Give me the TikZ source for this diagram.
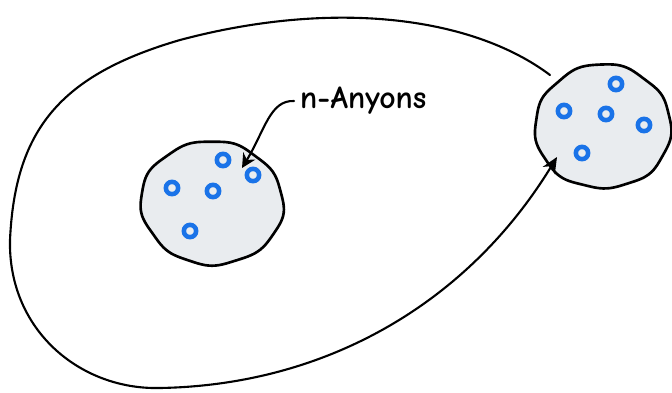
\documentclass[tikz,border=0pt]{standalone}
\usepackage{fontspec}
\newfontfamily\handfont{Comic Neue}
\usetikzlibrary{arrows.meta}
\definecolor{blobfill}{HTML}{E9ECEF}
\definecolor{anyon}{HTML}{1A73E8}
\tikzset{
  blob/.style={draw=black, line width=1.5pt, fill=blobfill},
  anyonring/.style={draw=anyon, line width=2.6pt, circle, minimum size=7pt, inner sep=0pt},
  sketch/.style={draw=black, line width=1.2pt, line cap=round},
}
\begin{document}
\begin{tikzpicture}[x=0.02cm, y=-0.02cm]
\useasboundingbox (0,0) rectangle (672,392);
% left blob
\draw[blob] plot[smooth cycle, samples=60, domain=0:354, variable=\t]
  ({212+70*(1+0.012*sin(9*\t)+0.03*sin(2*\t+40))*cos(\t)}, {203+62*(1+0.012*sin(9*\t))*sin(\t)});
% right blob
\draw[blob] plot[smooth cycle, samples=60, domain=0:354, variable=\t]
  ({603+68*(1+0.012*sin(9*\t+20))*cos(\t)}, {127+62*(1+0.012*sin(9*\t+20)+0.02*sin(3*\t))*sin(\t)});
% anyons
\foreach \n/\p in {a1/{(223,160)}, a2/{(172,188)}, a3/{(213,191)}, a4/{(253,175)}, a5/{(190,231)},
                   b1/{(616,84)}, b2/{(564,111)}, b3/{(606,114)}, b4/{(644,125)}, b5/{(582,153)}}
  \node[anyonring] (\n) at \p {};
% big loop
\coordinate (loopstart) at (550,75);
\coordinate (loopend) at (557,157);
\draw[sketch, -{Stealth[length=9pt,width=8pt]}] (loopstart) .. controls (470,15) and (330,0) .. (180,40)
  .. controls (60,75) and (15,130) .. (10,240)
  .. controls (8,330) and (80,390) .. (160,388)
  .. controls (330,385) and (470,300) .. (loopend);
% label
\node[font=\handfont\bfseries\fontsize{18}{18}\selectfont, anchor=west] (label) at (294,101) {n-Anyons};
\coordinate (arrowtip) at (242,168);
\draw[sketch, -{Stealth[length=8pt,width=8pt]}] (label.west) .. controls (270,100) and (265,130) .. (arrowtip);
\end{tikzpicture}
\end{document}
